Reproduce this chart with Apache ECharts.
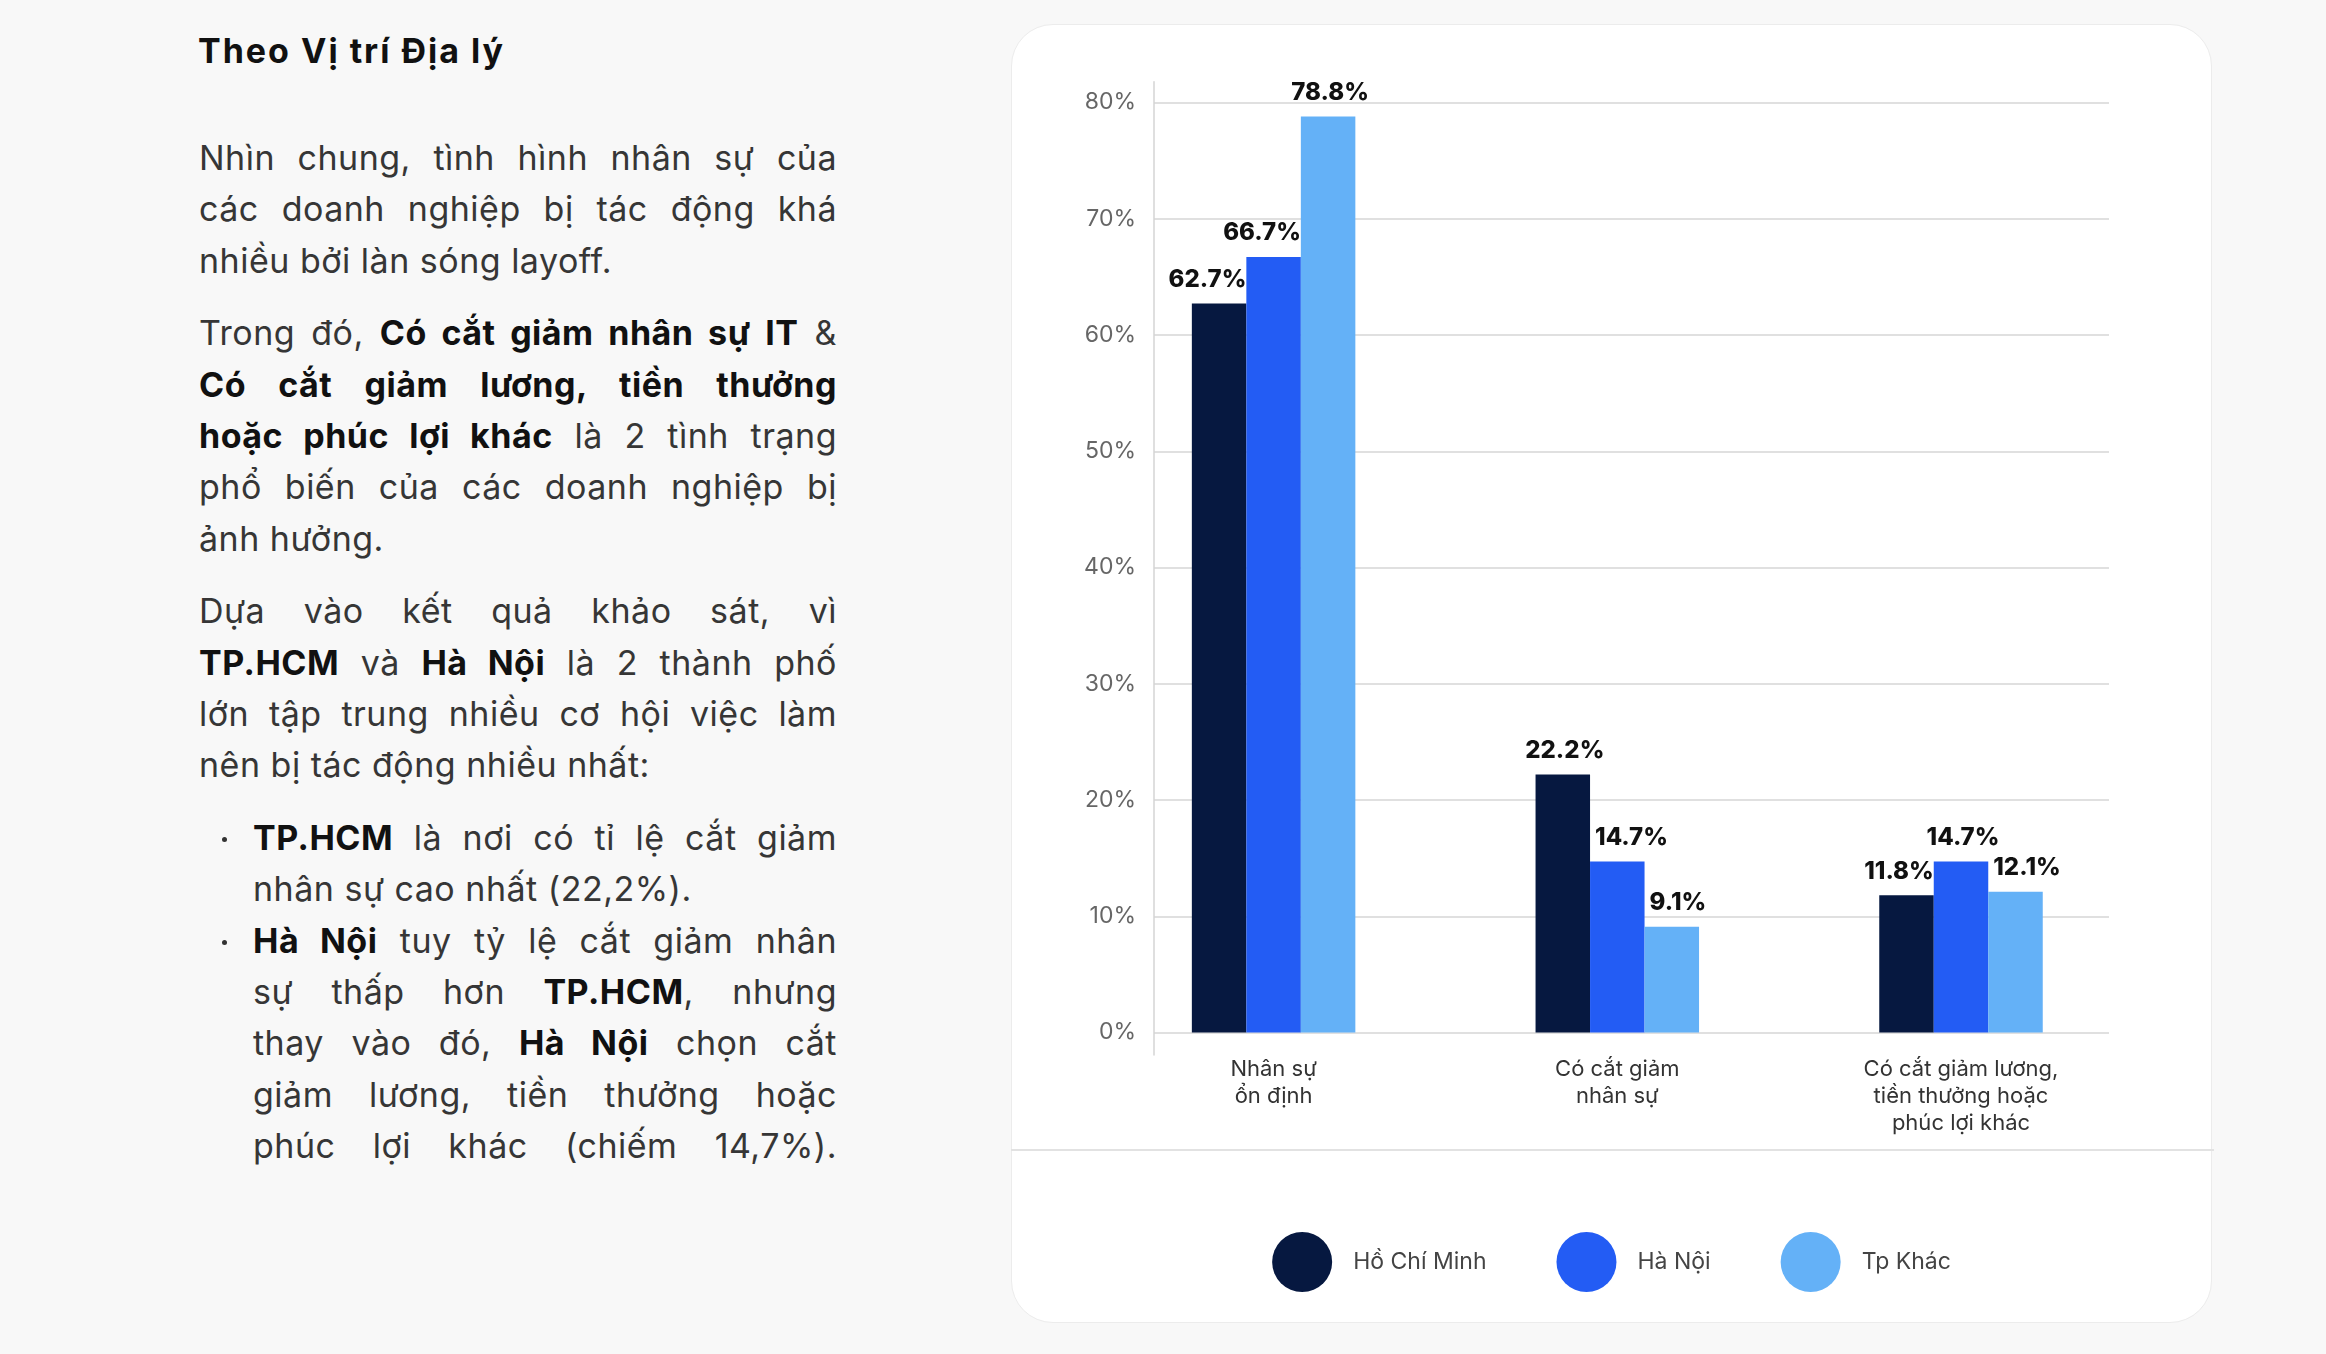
<!DOCTYPE html>
<html lang="vi">
<head>
<meta charset="utf-8">
<title>Theo Vị trí Địa lý</title>
<script src="https://cdn.jsdelivr.net/npm/echarts@6/dist/echarts.min.js"></script>
<style>
  html, body {
    margin: 0;
    padding: 0;
    width: 2326px;
    height: 1354px;
    background: #f8f8f8;
    overflow: hidden;
    font-family: Inter, "Noto Sans", sans-serif;
  }
  .title {
    position: absolute;
    left: 198px;
    top: 25px;
    font-size: 34px;
    line-height: 51.3px;
    font-weight: 700;
    letter-spacing: 2px;
    color: #111;
  }
  .text {
    position: absolute;
    left: 199px;
    top: 132px;
    width: 638px;
    font-size: 34px;
    line-height: 51.3px;
    letter-spacing: 0.5px;
    color: #363636;
  }
  .para {
    margin: 0 0 21.5px 0;
  }
  .text b {
    color: #111;
    font-weight: 700;
  }
  .line {
    white-space: nowrap;
    text-align: justify;
    text-align-last: justify;
  }
  .line.end {
    text-align-last: left;
  }
  .bullets {
    position: relative;
    padding-left: 54px;
  }
  .item {
    position: relative;
  }
  .item::before {
    content: "";
    position: absolute;
    left: -31px;
    top: 25px;
    width: 5px;
    height: 5px;
    border-radius: 50%;
    background: #333;
  }
  #card {
    position: absolute;
    left: 1011px;
    top: 24px;
    width: 1201px;
    height: 1299px;
    box-sizing: border-box;
    background: #fff;
    border: 1.5px solid #ececec;
    border-radius: 42px;
  }
  #sep {
    position: absolute;
    left: 1011px;
    top: 1149px;
    width: 1203px;
    height: 2px;
    background: #e2e2e2;
  }
  #chartContainer {
    position: absolute;
    left: 1011px;
    top: 24px;
    width: 1201px;
    height: 1299px;
  }
</style>
</head>
<body>

<div class="title">Theo Vị trí Địa lý</div>

<div class="text">
  <div class="para">
    <div class="line">Nhìn chung, tình hình nhân sự của</div>
    <div class="line">các doanh nghiệp bị tác động khá</div>
    <div class="line end">nhiều bởi làn sóng layoff.</div>
  </div>
  <div class="para">
    <div class="line">Trong đó, <b>Có cắt giảm nhân sự IT</b> &amp;</div>
    <div class="line"><b>Có cắt giảm lương, tiền thưởng</b></div>
    <div class="line"><b>hoặc phúc lợi khác</b> là 2 tình trạng</div>
    <div class="line">phổ biến của các doanh nghiệp bị</div>
    <div class="line end">ảnh hưởng.</div>
  </div>
  <div class="para">
    <div class="line">Dựa vào kết quả khảo sát, vì</div>
    <div class="line"><b>TP.HCM</b> và <b>Hà Nội</b> là 2 thành phố</div>
    <div class="line">lớn tập trung nhiều cơ hội việc làm</div>
    <div class="line end">nên bị tác động nhiều nhất:</div>
  </div>
  <div class="bullets">
    <div class="item">
      <div class="line"><b>TP.HCM</b> là nơi có tỉ lệ cắt giảm</div>
      <div class="line end">nhân sự cao nhất (22,2%).</div>
    </div>
    <div class="item">
      <div class="line"><b>Hà Nội</b> tuy tỷ lệ cắt giảm nhân</div>
      <div class="line">sự thấp hơn <b>TP.HCM</b>, nhưng</div>
      <div class="line">thay vào đó, <b>Hà Nội</b> chọn cắt</div>
      <div class="line">giảm lương, tiền thưởng hoặc</div>
      <div class="line">phúc lợi khác (chiếm 14,7%).</div>
    </div>
  </div>
</div>

<div id="card"></div>
<div id="sep"></div>
<div id="chartContainer"></div>

<script>
// 类别 / categories
const categories = [
  "Nhân sự\nổn định",
  "Có cắt giảm\nnhân sự",
  "Có cắt giảm lương,\ntiền thưởng hoặc\nphúc lợi khác",
];

// series
const seriesNames = ["Hồ Chí Minh", "Hà Nội", "Tp Khác"];
const hcmValues = [62.7, 22.2, 11.8];
const hanoiValues = [66.7, 14.7, 14.7];
const otherValues = [78.8, 9.1, 12.1];

// y axis ticks (%)
const yMin = 0;
const yMax = 80;
const yStep = 10;

const colors = ["#061840", "#235cf4", "#64b1f7"];
const fontName = "Inter, 'Noto Sans', sans-serif";
const barW = 54.5;

var chartContainer = document.getElementById("chartContainer");
var myChart = echarts.init(chartContainer, null, { renderer: "canvas" });

/**
 * 标签对齐: push a value label away from a taller neighbour bar
 * @param {*} all   all series values
 * @param {*} s     series index
 * @param {*} i     category index
 */
function labelFor(all, s, i) {
  const v = all[s][i];
  const left = s > 0 ? all[s - 1][i] : -1;
  const right = s < all.length - 1 ? all[s + 1][i] : -1;
  if (left > v) {
    return { align: "left", offset: [-barW / 2 + 5, 0] };
  }
  if (right > v) {
    return { align: "right", offset: [barW / 2, 0] };
  }
  return { align: "center", offset: [2, 0] };
}

function makeSeries(all, s) {
  return {
    name: seriesNames[s],
    type: "bar",
    xAxisIndex: 0,
    yAxisIndex: 0,
    data: all[s].map((v, i) => ({ value: v, label: labelFor(all, s, i) })),
    barWidth: barW,
    barGap: "0%",
    itemStyle: { color: colors[s] },
    label: {
      show: true,
      position: "top",
      distance: 12,
      formatter: (p) => p.value.toFixed(1) + "%",
      color: "#111",
      fontSize: 24,
      fontWeight: 800,
      fontFamily: fontName,
    },
  };
}

const allValues = [hcmValues, hanoiValues, otherValues];

var option = {
  animation: false,
  color: colors,
  grid: [
    // bars
    { left: 90.75, top: 78.5, width: 1031.1, height: 930 },
    // grid lines + y labels
    { left: 143, top: 78.5, width: 955, height: 930 },
    // y axis line (a bit longer than the grid lines)
    { left: 143, top: 57.7, width: 955, height: 973.3 },
  ],
  xAxis: [
    {
      gridIndex: 0,
      type: "category",
      data: categories,
      axisLine: { show: false },
      axisTick: { show: false },
      axisLabel: {
        margin: 23,
        color: "#333",
        fontSize: 22,
        lineHeight: 27,
        fontFamily: fontName,
        interval: 0,
      },
    },
    { gridIndex: 1, type: "value", show: false },
    { gridIndex: 2, type: "value", show: false },
  ],
  yAxis: [
    { gridIndex: 0, type: "value", min: yMin, max: yMax, show: false },
    {
      gridIndex: 1,
      type: "value",
      min: yMin,
      max: yMax,
      interval: yStep,
      axisLine: { show: false },
      axisTick: { show: false },
      splitLine: { show: true, lineStyle: { color: "#e0e0e0", width: 2 } },
      axisLabel: {
        margin: 18,
        formatter: "{value}%",
        color: "#666",
        fontSize: 23,
        fontFamily: fontName,
      },
    },
    {
      gridIndex: 2,
      type: "value",
      min: 0,
      max: 1,
      axisLine: { show: true, lineStyle: { color: "#d4d4d4", width: 1.5 } },
      axisTick: { show: false },
      axisLabel: { show: false },
      splitLine: { show: false },
    },
  ],
  legend: {
    data: seriesNames,
    left: "center",
    top: 1203,
    icon: "circle",
    itemWidth: 60,
    itemHeight: 60,
    itemGap: 70,
    textStyle: {
      color: "#444",
      fontSize: 23,
      fontFamily: fontName,
      padding: [0, 0, 0, 16],
    },
  },
  series: allValues.map((vals, s) => makeSeries(allValues, s)),
};

myChart.setOption(option);
</script>
</body>
</html>
